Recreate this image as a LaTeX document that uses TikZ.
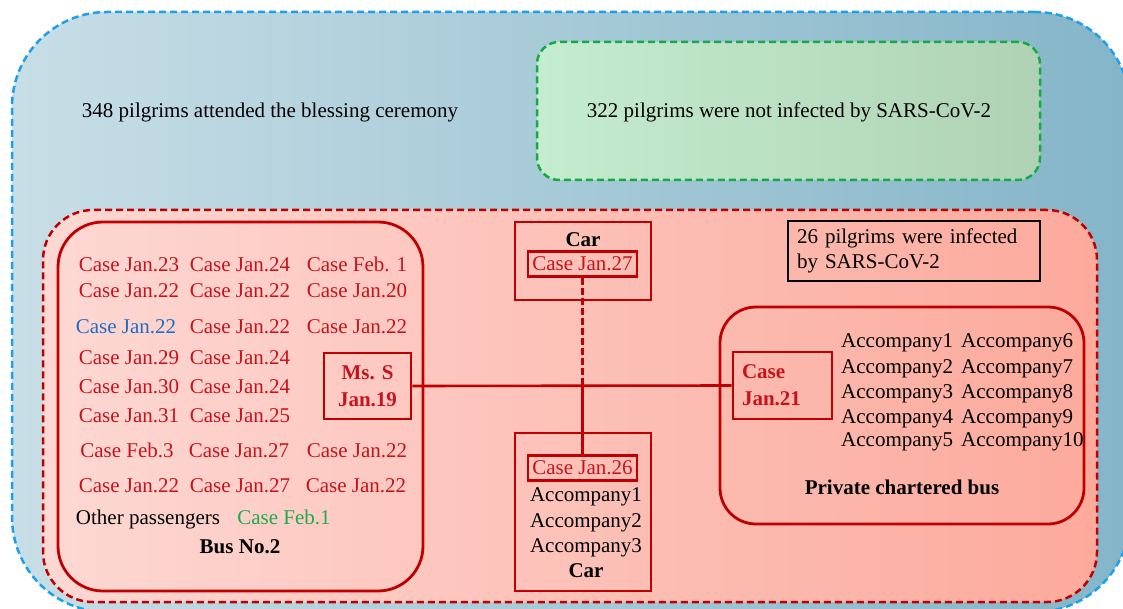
\documentclass[tikz,border=0pt]{standalone}
\usepackage{fontspec}
\setmainfont{Liberation Serif}
\definecolor{cred}{RGB}{192,0,0}
\definecolor{ctext}{RGB}{198,20,30}
\definecolor{cblue}{RGB}{28,160,235}
\definecolor{cgreen}{RGB}{20,170,70}
\definecolor{tblue}{RGB}{30,110,200}
\definecolor{tgreen}{RGB}{30,170,80}
\definecolor{bgL}{RGB}{200,222,230}
\definecolor{bgR}{RGB}{132,181,200}
\definecolor{grL}{RGB}{196,236,207}
\definecolor{grR}{RGB}{176,210,180}
\definecolor{rdL}{RGB}{253,216,211}
\definecolor{rdR}{RGB}{252,170,156}
\begin{document}
\begin{tikzpicture}[x=1pt,y=-1pt,
  txt/.style={font=\fontsize{21}{28}\selectfont, inner sep=0pt, anchor=base, yshift=-7pt},
  rtxt/.style={txt, text=ctext},
  btxt/.style={txt, font=\fontsize{21}{28}\selectfont\bfseries},
  ltxt/.style={txt, anchor=base west},
  redbox/.style={draw=cred, line width=2.8pt, inner sep=0pt},
  dashpat/.style={dash pattern=on 7pt off 4pt}
]
\clip (0,0) rectangle (1123,609);
% outer blue region
\node[draw=cblue, line width=2.5pt, dashpat, rounded corners=95pt, left color=bgL, right color=bgR,
  minimum width=1118pt, minimum height=600pt, inner sep=0pt] (outer) at (571,312) {};
\node[txt] (t348) at (270,111) {348 pilgrims attended the blessing ceremony};
% green region
\node[draw=cgreen, line width=2.5pt, dashpat, rounded corners=22pt, left color=grL, right color=grR,
  minimum width=503pt, minimum height=138pt, inner sep=0pt] (green) at (788.5,111) {};
\node[txt] (t322) at (789,111) {322 pilgrims were not infected by SARS-CoV-2};
% red region
\node[draw=cred, line width=2.5pt, dashpat, rounded corners=50pt, left color=rdL, right color=rdR,
  minimum width=1054pt, minimum height=392pt, inner sep=0pt] (redreg) at (570,406) {};

% Bus No.2
\node[redbox, rounded corners=45pt, minimum width=365pt, minimum height=369pt] (bus) at (240.5,406.5) {};
\node[redbox, minimum width=87pt, minimum height=66pt, font=\fontsize{21}{28}\selectfont\bfseries, text=ctext, align=center] (mss) at (367.5,386) {Ms. S\\[-1pt]Jan.19};

\node[rtxt] (a1) at (129,265) {Case Jan.23};
\node[rtxt] (a2) at (240,265) {Case Jan.24};
\node[rtxt] (a3) at (357,265) {Case Feb. 1};
\node[rtxt] (b1) at (129,291) {Case Jan.22};
\node[rtxt] (b2) at (240,291) {Case Jan.22};
\node[rtxt] (b3) at (357,291) {Case Jan.20};
\node[txt, text=tblue] (c1) at (126,326) {Case Jan.22};
\node[rtxt] (c2) at (240,326) {Case Jan.22};
\node[rtxt] (c3) at (357,326) {Case Jan.22};
\node[rtxt] (d1) at (129,357) {Case Jan.29};
\node[rtxt] (d2) at (240,357) {Case Jan.24};
\node[rtxt] (e1) at (129,386) {Case Jan.30};
\node[rtxt] (e2) at (240,386) {Case Jan.24};
\node[rtxt] (f1) at (129,415) {Case Jan.31};
\node[rtxt] (f2) at (240,415) {Case Jan.25};
\node[rtxt] (g1) at (127,450) {Case Feb.3};
\node[rtxt] (g2) at (239,450) {Case Jan.27};
\node[rtxt] (g3) at (357,450) {Case Jan.22};
\node[rtxt] (h1) at (129,485) {Case Jan.22};
\node[rtxt] (h2) at (240,485) {Case Jan.27};
\node[rtxt] (h3) at (356,485) {Case Jan.22};
\node[txt] (oth) at (148,517) {Other passengers};
\node[txt, text=tgreen] (feb1) at (284,517) {Case Feb.1};
\node[btxt] (busno) at (240,546) {Bus No.2};

% Car top
\node[redbox, minimum width=136pt, minimum height=78pt] (cartop) at (583,261) {};
\node[btxt] (cartoplbl) at (583,240) {Car};
\node[redbox, line width=2.2pt, minimum width=109pt, minimum height=25pt, font=\fontsize{21}{28}\selectfont, text=ctext] (c27) at (582.5,264) {Case Jan.27};

% Car bottom
\node[redbox, minimum width=136pt, minimum height=158pt] (carbot) at (583,512) {};
\node[redbox, line width=2.2pt, minimum width=109pt, minimum height=25pt, font=\fontsize{21}{28}\selectfont, text=ctext] (c26) at (582.5,468) {Case Jan.26};
\node[txt] (cb1) at (586,494) {Accompany1};
\node[txt] (cb2) at (586,520) {Accompany2};
\node[txt] (cb3) at (586,545) {Accompany3};
\node[btxt] (carbotlbl) at (586,570) {Car};

% 26 pilgrims
\node[draw=black, line width=2.5pt, minimum width=252pt, minimum height=60pt, inner xsep=9pt, inner ysep=0pt,
  text width=234pt, align=left, font=\fontsize{21}{25}\selectfont] (t26) at (914,251) {26 pilgrims were infected\\by SARS-CoV-2};

% Private chartered bus
\node[redbox, rounded corners=36pt, minimum width=364pt, minimum height=217pt] (pbus) at (902,415.5) {};
\node[redbox, minimum width=99pt, minimum height=67pt, inner xsep=9pt, text width=81pt, align=left,
  font=\fontsize{21}{28}\selectfont\bfseries, text=ctext] (c21) at (782.5,385.5) {Case\\[-1pt]Jan.21};
\node[ltxt] (p1) at (841,340) {Accompany1};
\node[ltxt] (p2) at (841,366) {Accompany2};
\node[ltxt] (p3) at (841,391) {Accompany3};
\node[ltxt] (p4) at (841,416) {Accompany4};
\node[ltxt] (p5) at (841,439) {Accompany5};
\node[ltxt] (p6) at (961,340) {Accompany6};
\node[ltxt] (p7) at (961,366) {Accompany7};
\node[ltxt] (p8) at (961,391) {Accompany8};
\node[ltxt] (p9) at (961,416) {Accompany9};
\node[ltxt] (p10) at (961,439) {Accompany10};
\node[btxt] (pbuslbl) at (902,487) {Private chartered bus};

% connectors
\coordinate (j) at (c27.south |- mss.east);
\draw[cred, line width=2.6pt] (mss.east) -- (c21.west);
\draw[cred, line width=2.4pt, dash pattern=on 7pt off 3pt] (c27.south) -- (j);
\draw[cred, line width=2.6pt] (j) -- (c26.north);
\end{tikzpicture}
\end{document}
